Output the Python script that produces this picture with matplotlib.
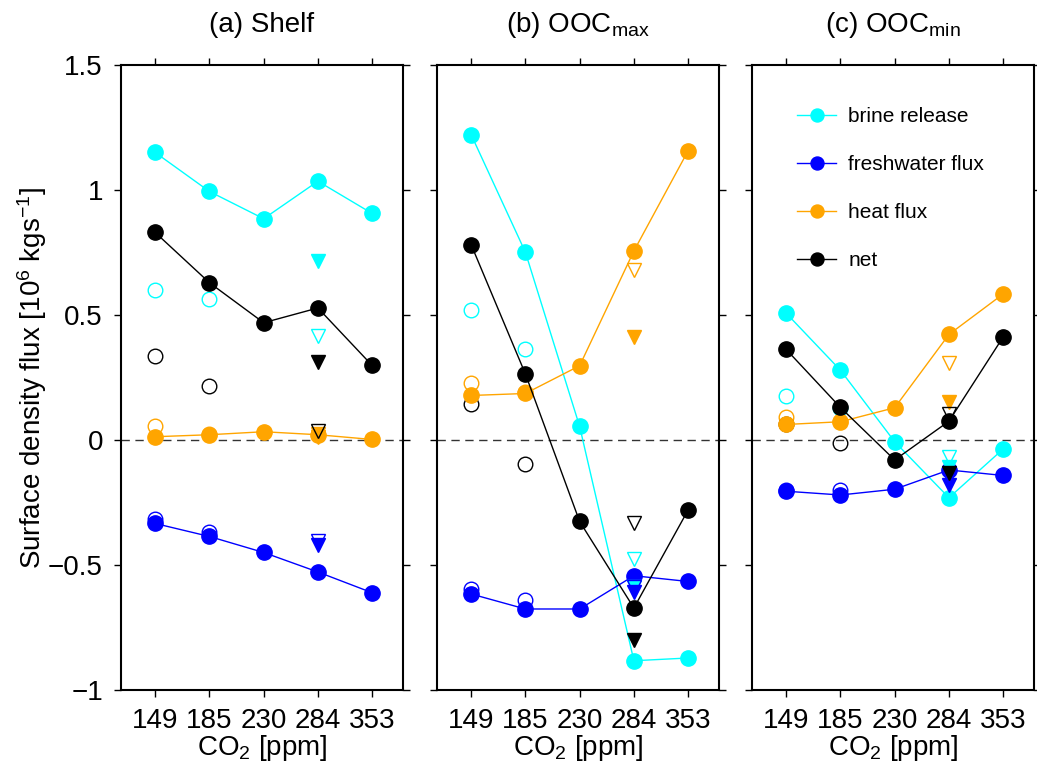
import matplotlib
matplotlib.use('Agg')
import matplotlib.pyplot as plt

plt.rcParams['font.family'] = ['Liberation Sans', 'DejaVu Sans']
plt.rcParams['mathtext.fontset'] = 'custom'
plt.rcParams['mathtext.rm'] = 'Liberation Sans'
plt.rcParams['mathtext.it'] = 'Liberation Sans'
plt.rcParams['axes.unicode_minus'] = True

# CO2 levels (categorical x axis)
co2 = ['149', '185', '230', '284', '353']

# filled circles, connected by lines
shelf_brine = [1.15, 0.994, 0.885, 1.035, 0.906]
shelf_fresh = [-0.334, -0.386, -0.450, -0.528, -0.611]
shelf_heat = [0.013, 0.021, 0.033, 0.021, 0.002]
shelf_net = [0.830, 0.629, 0.469, 0.528, 0.298]

max_brine = [1.221, 0.751, 0.054, -0.883, -0.872]
max_fresh = [-0.616, -0.676, -0.676, -0.543, -0.566]
max_heat = [0.178, 0.186, 0.297, 0.756, 1.157]
max_net = [0.781, 0.264, -0.326, -0.672, -0.280]

min_brine = [0.507, 0.279, -0.007, -0.231, -0.036]
min_fresh = [-0.205, -0.220, -0.197, -0.120, -0.142]
min_heat = [0.062, 0.073, 0.129, 0.422, 0.584]
min_net = [0.362, 0.130, -0.080, 0.075, 0.412]

# open circles at 149 and 185 ppm
shelf_brine_open = [0.601, 0.564]
shelf_fresh_open = [-0.316, -0.367]
shelf_heat_open = [0.057, 0.025]
shelf_net_open = [0.336, 0.217]

max_brine_open = [0.520, 0.363]
max_fresh_open = [-0.598, -0.642]
max_heat_open = [0.227, 0.19]
max_net_open = [0.143, -0.095]

min_brine_open = [0.174, 0.127]
min_fresh_open = [-0.200, -0.202]
min_heat_open = [0.091, 0.075]
min_net_open = [0.062, -0.011]

# triangles at 284 ppm: (filled, open)
shelf_brine_tri = (0.714, 0.417)
shelf_fresh_tri = (-0.419, -0.405)
shelf_heat_tri = (0.013, 0.024)
shelf_net_tri = (0.313, 0.037)

max_brine_tri = (-0.59, -0.476)
max_fresh_tri = (-0.61, -0.59)
max_heat_tri = (0.412, 0.681)
max_net_tri = (-0.802, -0.334)

min_brine_tri = (-0.11, -0.068)
min_fresh_tri = (-0.18, -0.15)
min_heat_tri = (0.152, 0.308)
min_net_tri = (-0.134, 0.103)

labels = ['brine release', 'freshwater flux', 'heat flux', 'net']
colors = ['#00FFFF', '#0000FF', '#FFA500', 'black']
titles = ['(a) Shelf', r'(b) OOC$_{\mathrm{max}}$', r'(c) OOC$_{\mathrm{min}}$']

panels = [
    ([shelf_brine, shelf_fresh, shelf_heat, shelf_net],
     [shelf_brine_open, shelf_fresh_open, shelf_heat_open, shelf_net_open],
     [shelf_brine_tri, shelf_fresh_tri, shelf_heat_tri, shelf_net_tri]),
    ([max_brine, max_fresh, max_heat, max_net],
     [max_brine_open, max_fresh_open, max_heat_open, max_net_open],
     [max_brine_tri, max_fresh_tri, max_heat_tri, max_net_tri]),
    ([min_brine, min_fresh, min_heat, min_net],
     [min_brine_open, min_fresh_open, min_heat_open, min_net_open],
     [min_brine_tri, min_fresh_tri, min_heat_tri, min_net_tri]),
]

fig = plt.figure(figsize=(10.37, 7.67), dpi=100)
lefts = [0.1167, 0.4214, 0.7252]
x = list(range(len(co2)))

for i, (left, (filled, opened, tris)) in enumerate(zip(lefts, panels)):
    ax = fig.add_axes([left, 0.1004, 0.272, 0.8149])
    ax.axhline(0, color='#333333', lw=1.0, ls=(0, (6, 4)), zorder=1)
    for vals, ovals, tri, c, lab in zip(filled, opened, tris, colors, labels):
        # open circles
        ax.plot(x[:2], ovals, ls='none', marker='o', ms=10.5, mfc='none',
                mec=c, mew=1.0, zorder=2)
        ax.plot(x, vals, color=c, lw=1.0, marker='o', ms=11, mfc=c,
                mec=c, label=lab, zorder=3)
        # triangles at 284 ppm
        ax.plot(x[3], tri[1], ls='none', marker='v', ms=10, mfc='none',
                mec=c, mew=1.0, zorder=4)
        ax.plot(x[3], tri[0], ls='none', marker='v', ms=10, mfc=c,
                mec=c, zorder=4)

    ax.set_xlim(-0.63, 4.57)
    ax.set_ylim(-1, 1.5)
    ax.set_xticks(x)
    ax.set_xticklabels(co2)
    ax.set_yticks([-1, -0.5, 0, 0.5, 1, 1.5])
    if i == 0:
        ax.set_yticklabels(['\u22121', '\u22120.5', '0', '0.5', '1', '1.5'])
        ax.set_ylabel(r'Surface density flux [10$^6$ kgs$^{-1}$]',
                      fontsize=20, labelpad=-1)
    else:
        ax.set_yticklabels([])
    ax.tick_params(direction='out', length=5, width=1, labelsize=20,
                   top=True, right=True, pad=8)
    for sp in ax.spines.values():
        sp.set_linewidth(1.5)
    ax.text(0.5, 1.053, titles[i], transform=ax.transAxes, ha='center',
            va='baseline', fontsize=20)
    ax.text(0.5, -0.069, r'CO$_2$ [ppm]', transform=ax.transAxes,
            ha='center', va='top', fontsize=20)
    if i == 2:
        ax.legend(loc='upper left', bbox_to_anchor=(0.094, 0.963),
                  frameon=False, fontsize=15, labelspacing=1.4,
                  handlelength=1.86, handletextpad=0.58, markerscale=0.85)

fig.savefig('out.png', dpi=100)
